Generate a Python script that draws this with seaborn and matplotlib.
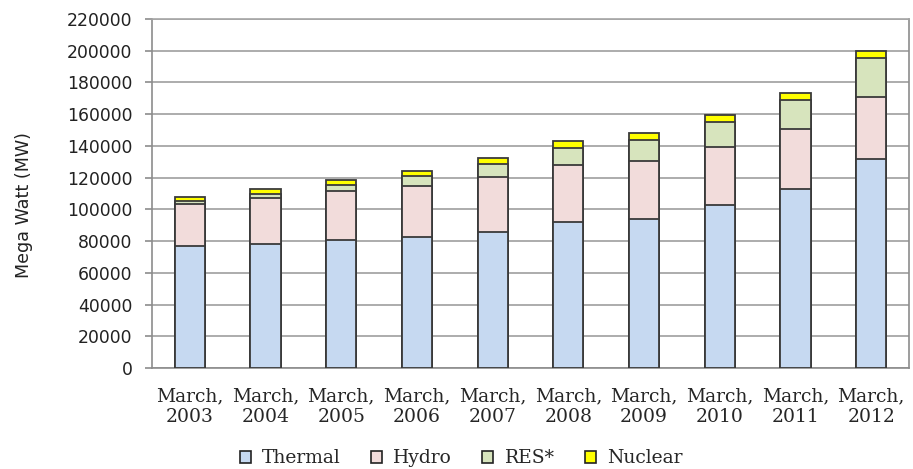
import numpy as np
import pandas as pd
import matplotlib
matplotlib.use("Agg")
import matplotlib.pyplot as plt
import seaborn as sns
from matplotlib.patches import Patch

years = ["2003", "2004", "2005", "2006", "2007", "2008", "2009", "2010", "2011", "2012"]
thermal = [76607, 77969, 80902, 82411, 86015, 91907, 93725, 102454, 112824, 131603]
hydro = [26910, 29500, 30942, 32326, 34654, 35909, 36878, 36863, 37567, 38990]
res = [1628, 2488, 3811, 6191, 7760, 11125, 13242, 15521, 18455, 24503]
nuclear = [2720, 2720, 2770, 3360, 3900, 4120, 4120, 4560, 4780, 4780]

series_names = ["Thermal", "Hydro", "RES*", "Nuclear"]
colors = ["#C6D9F1", "#F2DCDB", "#D7E4BD", "#FFFF00"]

sns.set_style("white")
plt.rcParams["font.family"] = ["DejaVu Serif"]

labels = [f"March,\n{y}" for y in years]
df = pd.DataFrame({"label": labels, "Thermal": thermal, "Hydro": hydro,
                   "RES*": res, "Nuclear": nuclear})
cum = df[series_names].cumsum(axis=1)

fig = plt.figure(figsize=(9.13, 4.69), dpi=100)
ax = fig.add_axes([0.1665, 0.2154, 0.8291, 0.7441])

# stacked look: draw cumulative totals, top layer first
for name, color in reversed(list(zip(series_names, colors))):
    sns.barplot(x=df["label"], y=cum[name], color=color, width=0.4,
                edgecolor="#3a3a3a", linewidth=1.3, saturation=1, ax=ax, zorder=3)

ax.set_ylim(0, 220000)
ax.set_xlim(-0.5, len(years) - 0.5)
ax.set_yticks(np.arange(0, 220001, 20000))
ax.yaxis.grid(True, color="#A6A6A6", linewidth=1.3, zorder=0)
ax.xaxis.grid(False)
ax.set_axisbelow(True)

for side in ["left", "bottom", "right", "top"]:
    ax.spines[side].set_visible(True)
    ax.spines[side].set_color("#8c8c8c")
    ax.spines[side].set_linewidth(1.2)
ax.spines["top"].set_color("#A6A6A6")

ax.set_xticks(np.arange(len(years)))
ax.set_xticklabels(labels, fontsize=13.5, linespacing=1.15)
ax.set_xticks(np.arange(-0.5, len(years), 1), minor=True)
ax.tick_params(axis="x", which="major", length=0, pad=14)
ax.tick_params(axis="x", which="minor", length=5, color="#8c8c8c", width=1.2)
ax.tick_params(axis="y", which="major", left=True, length=5, color="#8c8c8c",
               width=1.2, pad=9)
for t in ax.get_yticklabels():
    t.set_family("DejaVu Sans")
    t.set_fontsize(12.4)
    t.set_color("#222222")

ax.set_xlabel("")
ax.set_ylabel("Mega Watt (MW)", fontsize=12.6, family="DejaVu Sans",
              color="#222222")
ax.yaxis.set_label_coords(-0.157, 0.467)

handles = [Patch(facecolor=c, edgecolor="#222222", linewidth=1.2, label=n)
           for n, c in zip(series_names, colors)]
fig.legend(handles=handles, loc="center", ncol=4, frameon=False,
           fontsize=13.5, bbox_to_anchor=(0.505, 0.023), handlelength=0.6,
           handleheight=0.6, handletextpad=0.6, columnspacing=1.6)

fig.savefig("out.png", dpi=100, facecolor="white")
